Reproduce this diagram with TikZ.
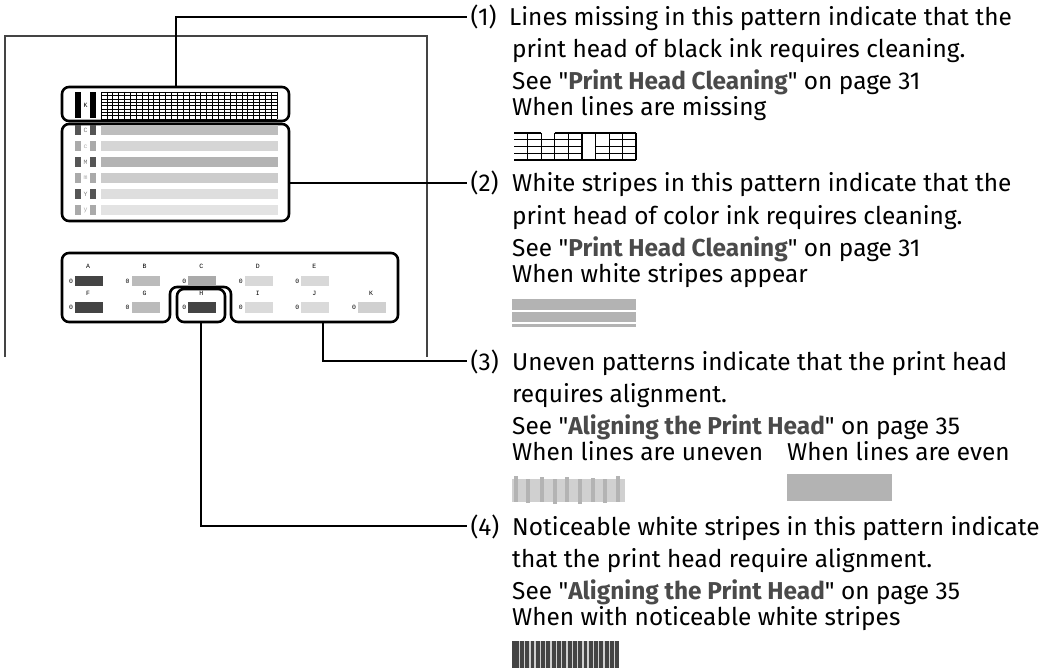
\documentclass[tikz,border=0pt]{standalone}
\usepackage{fontspec}
\usepackage{graphicx}
\setmainfont{Fira Sans}[Ligatures=TeXOff]
\newfontfamily\courfont{Liberation Mono}
\definecolor{boldgray}{HTML}{4A4A4A}
\definecolor{g44}{HTML}{444444}
\definecolor{g55}{HTML}{555555}
\definecolor{g77}{HTML}{7A7A7A}
\definecolor{gAA}{HTML}{AAAAAA}
\definecolor{gB3}{HTML}{B3B3B3}
\definecolor{gBB}{HTML}{BBBBBB}
\definecolor{gBD}{HTML}{BDBDBD}
\definecolor{gCC}{HTML}{CCCCCC}
\definecolor{gD0}{HTML}{D0D0D0}
\definecolor{gD5}{HTML}{D5D5D5}
\definecolor{gD8}{HTML}{D8D8D8}
\definecolor{gDA}{HTML}{DADADA}
\definecolor{gDE}{HTML}{DEDEDE}
\definecolor{gE3}{HTML}{E3E3E3}
\newcommand\mybold[1]{\textcolor{boldgray}{\bfseries #1}}
\newcommand\dq{\symbol{"22}}
\begin{document}
\begin{tikzpicture}[x=1bp,y=-1bp,
  frame/.style={draw=black, line width=2.6bp, rounded corners=7bp, inner sep=0},
  conn/.style={draw=black, line width=2bp},
  pageline/.style={draw=g44, line width=1.4bp},
  txt/.style={anchor=base west, inner sep=0, font=\fontsize{24.5}{29}\selectfont},
  num/.style={anchor=base west, inner ysep=0, inner xsep=3.5bp, font=\fontsize{24.5}{29}\selectfont},
  mono/.style={inner sep=0, font=\courfont\fontsize{6.5}{7}\selectfont},
  gridline/.style={line width=1.1bp}]
\useasboundingbox (0,0) rectangle (1056,668);

% page outline
\draw[pageline] (5,357) -- (5,36) -- (427,36) -- (427,357);

% K box
\node[frame, minimum width=227bp, minimum height=34bp] (kbox) at (175.5,104) {};
\fill (75,92) rectangle (81,118);
\fill (90,92) rectangle (96,118);
\node[mono] (klab) at (85.5,105) {K};
\foreach \i in {0,...,30} \draw[line width=0.7bp] ({101+\i*5.87},92) -- ({101+\i*5.87},119);
\foreach \j in {0,...,8} \draw[line width=0.7bp] (101,{92.5+\j*3.3}) -- (277,{92.5+\j*3.3});

% colour box
\node[frame, minimum width=227bp, minimum height=97bp] (cbox) at (175.5,172.5) {};
\foreach \yt/\sc/\bc/\lc/\l/\nm in {125/g55/gBD/g77/C/a,141.5/gAA/gD5/gAA/c/b,157.5/g55/gB3/g77/M/c,173/gAA/gCC/gAA/m/d,189/g55/gDE/g77/Y/e,205/gAA/gE3/gAA/y/f}{
  \fill[\sc] (75,\yt) rectangle (81,{\yt+10});
  \fill[\sc] (90,\yt) rectangle (96,{\yt+10});
  \fill[\bc] (101,\yt) rectangle (278,{\yt+10});
  \node[mono, text=\lc] (row\nm) at (85.5,{\yt+5}) {\l};
}

% alignment pattern box
\draw[frame] (100,253) -- (398,253) -- (398,322) -- (231,322) -- (231,287) -- (170,287) -- (170,322) -- (62,322) -- (62,253) -- cycle;
\node[frame, minimum width=48bp, minimum height=33bp] (hbox) at (201,305.5) {};
\foreach \k/\l/\c in {0/A/g44,1/B/gBB,2/C/gAA,3/D/gD8,4/E/gD8}{
  \node[mono] (top\l) at ({88+56.6*\k},266) {\l};
  \node[mono] (ztop\l) at ({71+56.6*\k},281) {0};
  \fill[\c] ({75+56.6*\k},275.5) rectangle ({103+56.6*\k},286);
}
\foreach \k/\l/\c in {0/F/g44,1/G/gBB,2/H/g44,3/I/gDA,4/J/gDA,5/K/gD0}{
  \node[mono] (bot\l) at ({88+56.6*\k},293) {\l};
  \node[mono] (zbot\l) at ({71+56.6*\k},307.5) {0};
  \fill[\c] ({75+56.6*\k},302) rectangle ({103+56.6*\k},313);
}
\coordinate (c3) at (323,322);

% ---- block 1
\node[num] (n1) at (467,26) {(1)};
\node[txt] (t1a) at (509,26) {Lines missing in this pattern indicate that the};
\node[txt] (t1b) at (512,58) {print head of black ink requires cleaning.};
\node[txt] (t1c) at (512,90) {See \dq\mybold{Print Head Cleaning}\dq{} on page 31};
\node[txt] (t1d) at (512,116) {When lines are missing};
\begin{scope}[gridline]
\foreach \i in {1,...,8} \draw ({514+13.6*\i},133) -- ({514+13.6*\i},160);
\draw (636,133) -- (636,160);
\foreach \c/\levels in {0/{0,1,2,3,4},1/{0,1,2,3,4},2/{1,2,3,4},3/{0,1,2,3,4},4/{0,1,2,3,4},5/{0,4},6/{0,2,3,4},7/{0,1,2,3,4},8/{0,1,2,3,4}}{
  \foreach \lv in \levels \draw ({514+13.6*\c},{133+6.75*\lv}) -- ({min(636,514+13.6*(\c+1))},{133+6.75*\lv});
}
\end{scope}

% ---- block 2
\node[num] (n2) at (467,192) {(2)};
\node[txt] (t2a) at (512,192) {White stripes in this pattern indicate that the};
\node[txt] (t2b) at (512,224) {print head of color ink requires cleaning.};
\node[txt] (t2c) at (512,256) {See \dq\mybold{Print Head Cleaning}\dq{} on page 31};
\node[txt] (t2d) at (512,282) {When white stripes appear};
\fill[gB3] (512,299) rectangle (636,309.5);
\fill[gB3] (512,311.5) rectangle (636,322);
\fill[gB3] (512,324) rectangle (636,327);

% ---- block 3
\node[num] (n3) at (467,370) {(3)};
\node[txt] (t3a) at (512,370) {Uneven patterns indicate that the print head};
\node[txt] (t3b) at (512,402) {requires alignment.};
\node[txt] (t3c) at (512,434) {See \dq\mybold{Aligning the Print Head}\dq{} on page 35};
\node[txt] (t3d) at (512,460) {When lines are uneven};
\node[txt] (t3e) at (787,460) {When lines are even};
\fill[gD0] (512,479) rectangle (625,502);
\foreach \x/\ya/\yb in {514/476/502,526/479/503,540/477/502,553/479/504,565/477/502,578/479/504,591/478/502,603/479/503,616/476/502}
  \fill[gB3] (\x,\ya) rectangle ({\x+3.8},\yb);
\fill[gB3] (787,474) rectangle (892,501);

% ---- block 4
\node[num] (n4) at (467,535) {(4)};
\node[txt] (t4a) at (512,535) {Noticeable white stripes in this pattern indicate};
\node[txt] (t4b) at (512,567) {that the print head require alignment.};
\node[txt] (t4c) at (512,599) {See \dq\mybold{Aligning the Print Head}\dq{} on page 35};
\node[txt] (t4d) at (512,625) {When with noticeable white stripes};
\fill[g44] (512,641) rectangle (619,668);
\foreach \i in {0,...,18} \fill[gD0] ({518.5+5.3*\i},641) rectangle ({519.9+5.3*\i},668);

% connectors
\draw[conn] (kbox.north) |- (n1.west);
\draw[conn] (cbox.east |- n2.west) -- (n2.west);
\draw[conn] (c3) |- (n3.west);
\draw[conn] (hbox.south) |- (n4.west);
\end{tikzpicture}
\end{document}
